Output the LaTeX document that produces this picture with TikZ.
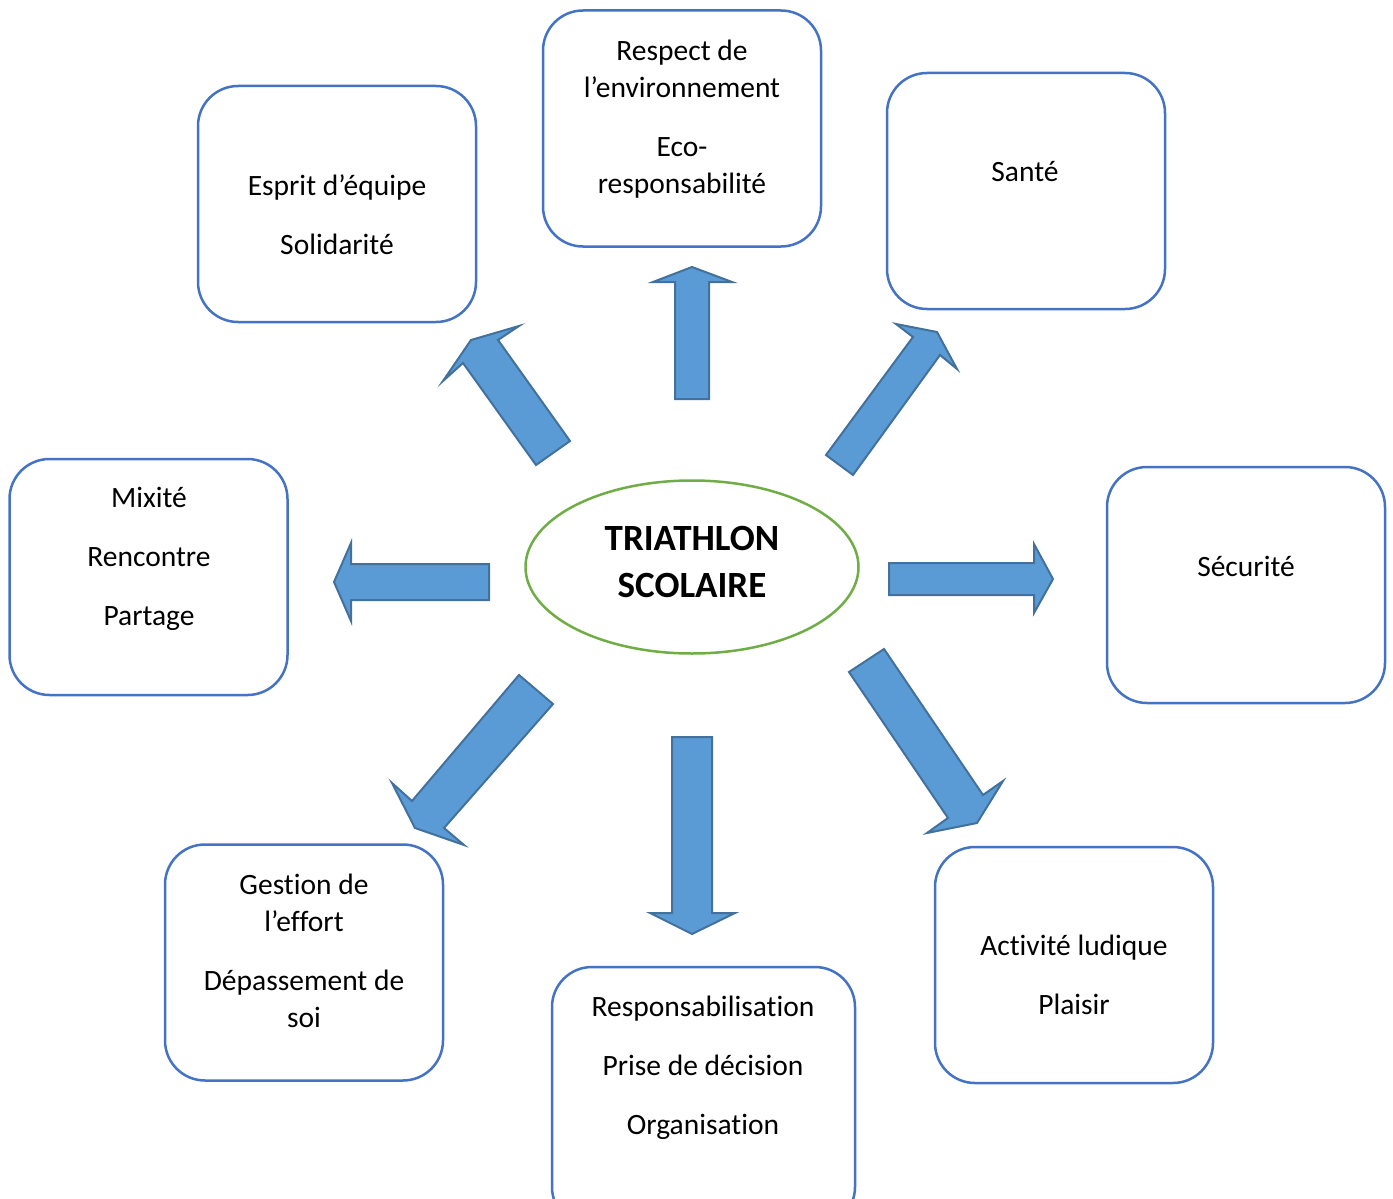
\documentclass[tikz,border=0pt]{standalone}
\usepackage{fontspec}
\setmainfont{Carlito}[Ligatures=NoCommon]
\usetikzlibrary{shapes.geometric}
\definecolor{boxblue}{HTML}{4472C4}
\definecolor{arrfill}{HTML}{5B9BD5}
\definecolor{arrline}{HTML}{41719C}
\definecolor{ellgreen}{HTML}{70AD47}
\tikzset{
  valbox/.style={draw=boxblue, line width=2.5pt, rounded corners=40pt, fill=white,
    minimum width=278pt, minimum height=236pt, inner sep=0pt},
  valtext/.style={anchor=base, align=center, inner sep=0pt,
    font=\fontsize{29.5}{37}\selectfont},
  blockarrow/.style={fill=arrfill, draw=arrline, line width=2pt, line join=miter},
}
\begin{document}
\begin{tikzpicture}[x=1pt, y=-1pt]
\clip (0,0) rectangle (1393,1199);
\fill[white] (0,0) rectangle (1393,1199);

% boxes
\node[valbox] (bEsprit)  at (337,204) {};
\node[valbox] (bRespect) at (682,128.5) {};
\node[valbox] (bSante)   at (1026,191) {};
\node[valbox] (bMixite)  at (148.5,577) {};
\node[valbox] (bSecu)    at (1246,585) {};
\node[valbox] (bGestion) at (304,962.5) {};
\node[valbox, minimum width=303pt, minimum height=260pt] (bResp) at (703.5,1097) {};
\node[valbox] (bActiv)   at (1074,965) {};

% texts (base anchor = baseline of the last line)
\node[valtext] (tEsprit) at (337,254) {Esprit d’équipe\\[22pt]Solidarité};
\node[valtext] (tRespect) at (682,193) {Respect de\\l’environnement\\[22pt]Eco-\\responsabilité};
\node[valtext] (tSante) at (1025,181) {Santé};
\node[valtext] (tMixite) at (149,625) {Mixité\\[22pt]Rencontre\\[22pt]Partage};
\node[valtext] (tSecu) at (1246,576) {Sécurité};
\node[valtext] (tGestion) at (304,1027) {Gestion de\\l’effort\\[22pt]Dépassement de\\soi};
\node[valtext] (tResp) at (703,1134) {Responsabilisation\\[22pt]Prise de décision\\[22pt]Organisation};
\node[valtext] (tActiv) at (1074,1014) {Activité ludique\\[22pt]Plaisir};

% centre
\node[draw=ellgreen, line width=2.5pt, ellipse, minimum width=333pt, minimum height=173pt, inner sep=0pt] (centre) at (692,567) {};
\node[anchor=base, align=center, inner sep=0pt, font=\fontsize{37}{47}\selectfont\bfseries] (tCentre) at (692,597) {TRIATHLON\\SCOLAIRE};

% block arrows
\draw[blockarrow] (675,399) -- (709,399) -- (709,282) -- (732,282) -- (692,267) -- (653,282) -- (675,282) -- cycle;
\draw[blockarrow] (570,441) -- (536,465) -- (463,363) -- (443,381) -- (471,340) -- (519,326) -- (498,340) -- cycle;
\draw[blockarrow] (826,455) -- (853,475) -- (940,355) -- (957,369) -- (937,332) -- (896,324) -- (913,337) -- cycle;
\draw[blockarrow] (489,564) -- (351,564) -- (351,543) -- (334,582) -- (351,621) -- (351,600) -- (489,600) -- cycle;
\draw[blockarrow] (889,563) -- (1034,563) -- (1034,544) -- (1053,579) -- (1034,613) -- (1034,595) -- (889,595) -- cycle;
\draw[blockarrow] (519,675) -- (553,704) -- (444,828) -- (464,845) -- (415,828) -- (392,783) -- (412,801) -- cycle;
\draw[blockarrow] (672,737) -- (712,737) -- (712,913) -- (735,913) -- (692,934) -- (650,913) -- (672,913) -- cycle;
\draw[blockarrow] (849,672) -- (884,649) -- (983,795) -- (1003,781) -- (977,823) -- (927,833) -- (948,818) -- cycle;
\end{tikzpicture}
\end{document}
